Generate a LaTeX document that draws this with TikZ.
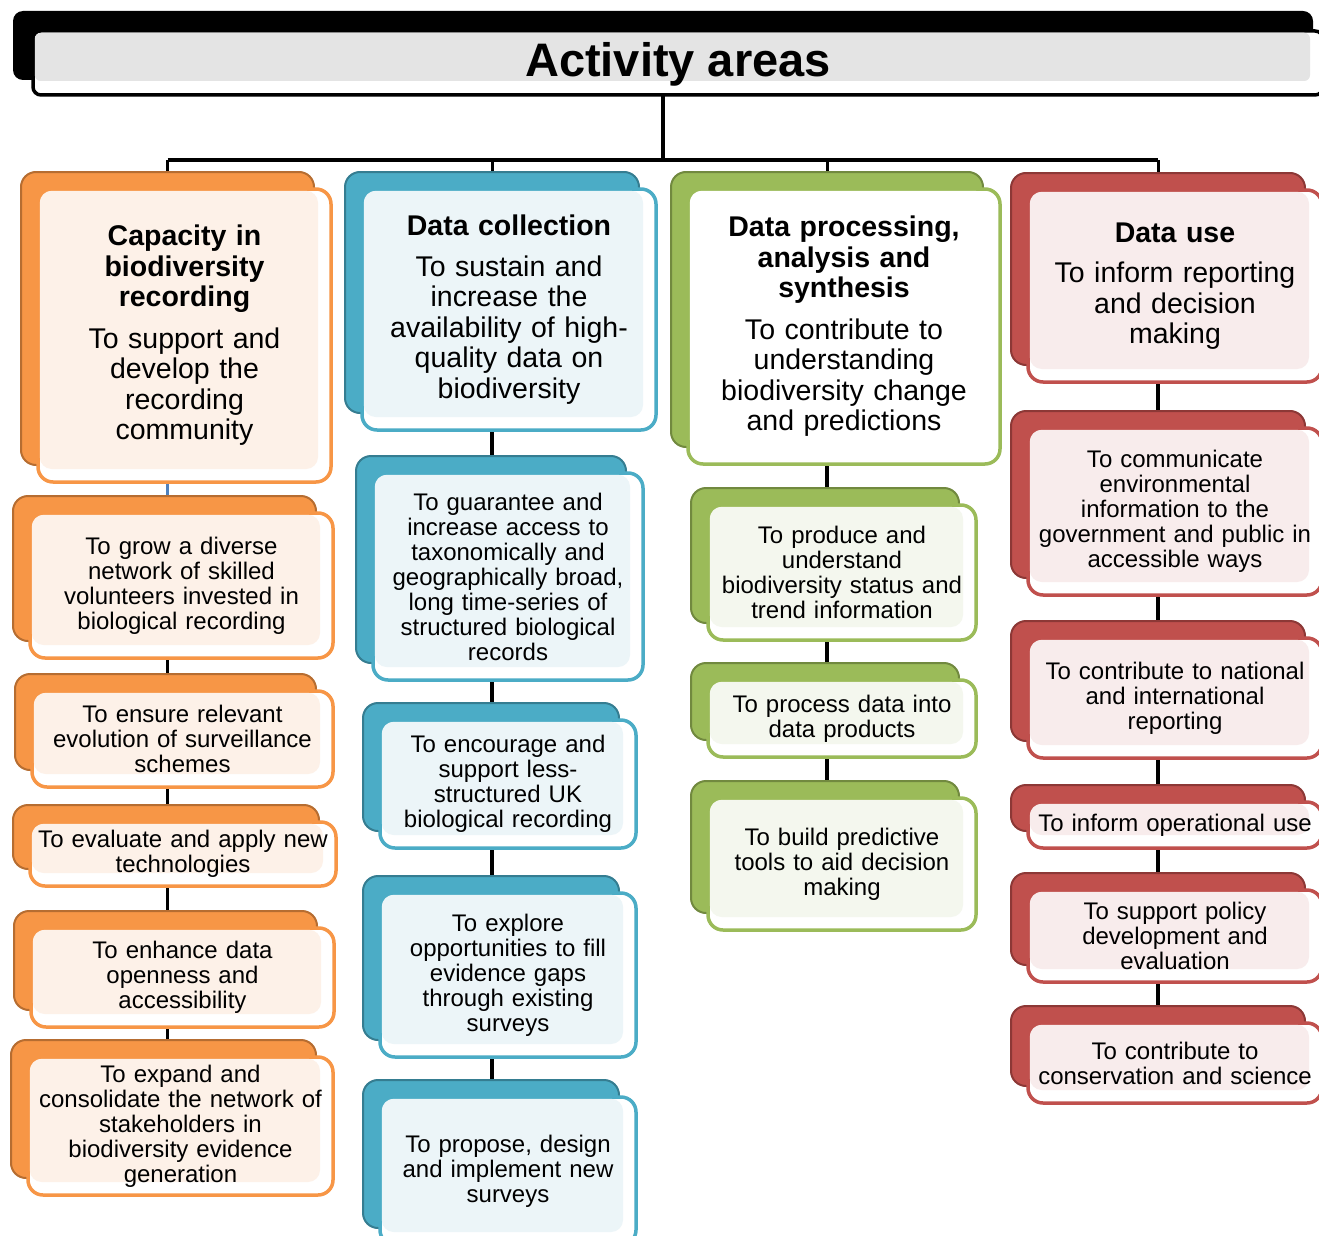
\documentclass[tikz,border=0pt]{standalone}
\usepackage{fontspec}
\setmainfont{Liberation Sans}
\usetikzlibrary{calc}
\pgfdeclarelayer{background}
\pgfsetlayers{background,main}

% theme colours: A = accent, B = dark edge, T = light tint
\definecolor{orA}{HTML}{F79646}\definecolor{orB}{HTML}{B66D31}\definecolor{orT}{HTML}{FDF1E8}
\definecolor{blA}{HTML}{4BACC6}\definecolor{blB}{HTML}{357D91}\definecolor{blT}{HTML}{ECF5F8}
\definecolor{grA}{HTML}{9BBB59}\definecolor{grB}{HTML}{71893F}\definecolor{grT}{HTML}{F4F7EE}
\definecolor{rdA}{HTML}{C0504D}\definecolor{rdB}{HTML}{8C3836}\definecolor{rdT}{HTML}{F8ECEC}
\definecolor{ttlT}{HTML}{E4E4E4}
\definecolor{linkblue}{HTML}{4F81BD}

\tikzset{
  backbox/.style={rectangle, rounded corners=15pt, line width=2pt, outer sep=0pt},
  frontbox/.style={rectangle, rounded corners=15pt, line width=3.5pt, fill=white, outer sep=0pt},
  orback/.style={backbox, fill=orA, draw=orB},
  orfront/.style={frontbox, draw=orA},
  ortint/.style={fill=orT},
  blback/.style={backbox, fill=blA, draw=blB},
  blfront/.style={frontbox, draw=blA},
  bltint/.style={fill=blT},
  grback/.style={backbox, fill=grA, draw=grB},
  grfront/.style={frontbox, draw=grA},
  grtint/.style={fill=grT},
  ghback/.style={grback},
  ghfront/.style={grfront},
  ghtint/.style={fill=white},
  rdback/.style={backbox, fill=rdA, draw=rdB},
  rdfront/.style={frontbox, draw=rdA},
  rdtint/.style={fill=rdT},
  subtext/.style={align=center, text width=310pt, inner sep=0pt,
    font=\fontsize{24}{25}\selectfont},
  headtext/.style={align=center, text width=310pt, inner sep=0pt,
    font=\fontsize{28.5}{30.5}\selectfont},
  link/.style={line width=3.5pt, black},
  drop/.style={line width=3pt, black},
}

% #1 name, #2 colour family, #3..#6 front box corners, #7 text style, #8 text
\newcommand\actbox[8]{%
  \pgfmathsetmacro\bw{#5-#3}%
  \pgfmathsetmacro\bh{#6-#4}%
  \pgfmathsetmacro\bx{(#3+#5)/2}%
  \pgfmathsetmacro\by{(#4+#6)/2}%
  \node[#2back, minimum width=\bw pt, minimum height=\bh pt] (#1-s) at (\bx-17,\by-17) {};
  \node[#2front, minimum width=\bw pt, minimum height=\bh pt] (#1) at (\bx,\by) {};
  \fill[#2tint, rounded corners=12pt] ($(#1.north west)+(1.75,1.75)$) rectangle ($(#1.south east)+(-13,-13)$);
  \node[#7] (#1-t) at (#1) {#8};
}

\begin{document}
\begin{tikzpicture}[x=1pt, y=-1pt]
\useasboundingbox (0,0) rectangle (1319,1236);

% title bar
\node[rectangle, rounded corners=10pt, fill=black, outer sep=0pt,
      minimum width=1300pt, minimum height=69pt] (title-s) at (663,45.5) {};
\node[rectangle, rounded corners=8pt, fill=white, draw=black, line width=3.5pt, outer sep=0pt,
      minimum width=1290pt, minimum height=64pt] (title) at (678,63) {};
\fill[ttlT, rounded corners=6pt] ($(title.north west)+(1.75,1.75)$) rectangle ($(title.south east)+(-13,-14)$);
\node[anchor=base, inner sep=0pt, font=\fontsize{47}{50}\selectfont\bfseries] (title-t) at (678,77) {Activity areas};

% capacity column
\actbox{c1h}{or}{38}{189}{331}{482}{headtext}{\textbf{Capacity in\\biodiversity\\recording}\\[11pt]To support and\\develop the\\recording\\community}
\actbox{c1a}{or}{30}{513}{333}{658}{subtext}{To grow a diverse\\network of skilled\\volunteers invested in\\biological recording}
\actbox{c1b}{or}{32}{691}{333}{787}{subtext}{To ensure relevant\\evolution of surveillance\\schemes}
\actbox{c1c}{or}{30}{822}{336}{886}{subtext}{To evaluate and apply new\\technologies}
\actbox{c1d}{or}{31}{928}{334}{1027}{subtext}{To enhance data\\openness and\\accessibility}
\actbox{c1e}{or}{28}{1057}{333}{1195}{subtext}{To expand and\\consolidate the network of\\stakeholders in\\biodiversity evidence\\generation}

% data collection column
\actbox{c2h}{bl}{362}{189}{656}{430}{headtext}{\textbf{Data collection}\\[10pt]To sustain and\\increase the\\availability of high-\\quality data on\\biodiversity}
\actbox{c2a}{bl}{373}{473}{643}{680}{subtext}{To guarantee and\\increase access to\\taxonomically and\\geographically broad,\\long time-series of\\structured biological\\records}
\actbox{c2b}{bl}{380}{720}{636}{848}{subtext}{To encourage and\\support less-\\structured UK\\biological recording}
\actbox{c2c}{bl}{380}{893}{636}{1057}{subtext}{To explore\\opportunities to fill\\evidence gaps\\through existing\\surveys}
\actbox{c2d}{bl}{380}{1097}{636}{1245}{subtext}{To propose, design\\and implement new\\surveys}

% data processing column
\actbox{c3h}{gh}{688}{189}{1000}{464}{headtext}{\textbf{Data processing,\\analysis and\\synthesis}\\[11pt]To contribute to\\understanding\\biodiversity change\\and predictions}
\actbox{c3a}{gr}{708}{505}{976}{640}{subtext}{To produce and\\understand\\biodiversity status and\\trend information}
\actbox{c3b}{gr}{708}{680}{976}{757}{subtext}{To process data into\\data products}
\actbox{c3c}{gr}{708}{798}{976}{930}{subtext}{To build predictive\\tools to aid decision\\making}

% data use column
\actbox{c4h}{rd}{1028}{190}{1322}{382}{headtext}{\textbf{Data use}\\[10pt]To inform reporting\\and decision\\making}
\actbox{c4a}{rd}{1028}{428}{1322}{595}{subtext}{To communicate\\environmental\\information to the\\government and public in\\accessible ways}
\actbox{c4b}{rd}{1028}{638}{1322}{758}{subtext}{To contribute to national\\and international\\reporting}
\actbox{c4c}{rd}{1028}{802}{1322}{848}{subtext}{To inform operational use}
\actbox{c4d}{rd}{1028}{890}{1322}{982}{subtext}{To support policy\\development and\\evaluation}
\actbox{c4e}{rd}{1028}{1023}{1322}{1103}{subtext}{To contribute to\\conservation and science}

% tree connectors behind the boxes
\coordinate (bus) at (663,160);
\begin{pgfonlayer}{background}
  \draw[link] (title-s.south) -- (bus);
  \draw[link] (c1h-s.north |- bus) -- (c4h-s.north |- bus);
  \foreach \c in {c1h,c2h,c3h,c4h}
    \draw[drop] (\c-s.north |- bus) -- (\c-s.north);
  \draw[link] (c1h-s) -- (c1h-s |- c1e-s);
  \draw[link] (c2h-s) -- (c2h-s |- c2d-s);
  \draw[link] (c3h-s) -- (c3h-s |- c3c-s);
  \draw[link] (c4h-s) -- (c4h-s |- c4e-s);
  \draw[line width=3pt, linkblue] (c1h-s.south) -- (c1h-s.south |- c1a-s.north);
\end{pgfonlayer}
\end{tikzpicture}
\end{document}
